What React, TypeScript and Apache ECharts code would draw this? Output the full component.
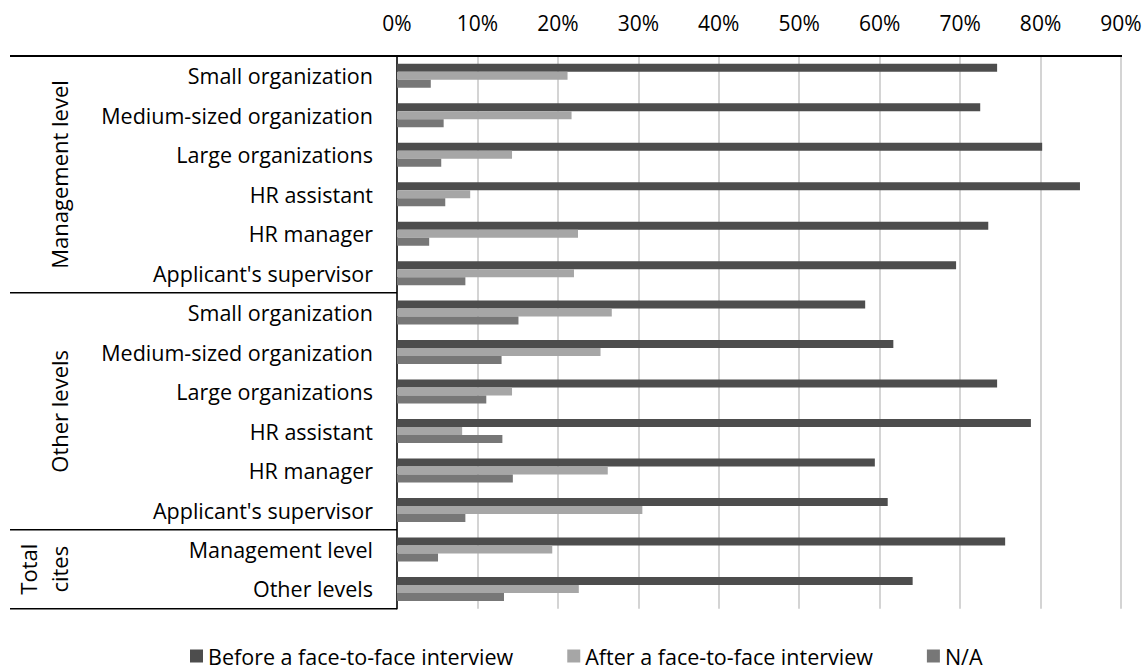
import React, { useEffect, useRef } from "react";
import * as echarts from "echarts";

const categories = [
  "Small organization",
  "Medium-sized organization",
  "Large organizations",
  "HR assistant",
  "HR manager",
  "Applicant's supervisor",
  "Small organization ",
  "Medium-sized organization ",
  "Large organizations ",
  "HR assistant ",
  "HR manager ",
  "Applicant's supervisor ",
  "Management level",
  "Other levels",
];

const seriesNames = [
  "Before a face-to-face interview",
  "After a face-to-face interview",
  "N/A",
];

const beforeValues = [74.6, 72.5, 80.2, 84.9, 73.5, 69.5, 58.2, 61.7, 74.6, 78.8, 59.4, 61.0, 75.6, 64.1];
const afterValues = [21.2, 21.7, 14.3, 9.1, 22.5, 22.0, 26.7, 25.3, 14.3, 8.1, 26.2, 30.5, 19.3, 22.6];
const naValues = [4.2, 5.8, 5.5, 6.0, 4.0, 8.5, 15.1, 13.0, 11.1, 13.1, 14.4, 8.5, 5.1, 13.3];

const groupLabels = ["Management level", "Other levels", "Total\ncites"];
const groupSizes = [6, 6, 2];

const colors = ["#4d4d4d", "#a6a6a6", "#777777"];
const FONT = "Open Sans";

export default function App() {
  const ref = useRef<HTMLDivElement>(null);
  useEffect(() => {
    if (!ref.current) return;
    const chart = echarts.init(ref.current, null, { renderer: "svg" });
    const W = 1148, H = 671;
    const gLeft = 397, gRight = 1121, gTop = 56, gBottom = 608.7;
    const band = (gBottom - gTop) / categories.length;
    const leftEdge = 10;

    const graphics: any[] = [];
    graphics.push({
      type: "line",
      shape: { x1: leftEdge, y1: gTop, x2: gRight + 1, y2: gTop },
      style: { stroke: "#000", lineWidth: 2 },
      z: 10,
    });
    let acc = 0;
    groupSizes.forEach((n, i) => {
      const y0 = gTop + acc * band;
      acc += n;
      const y1 = gTop + acc * band;
      graphics.push({
        type: "line",
        shape: { x1: leftEdge, y1, x2: gLeft, y2: y1 },
        style: { stroke: "#000", lineWidth: 1.5 },
        z: 10,
      });
      graphics.push({
        type: "text",
        x: i === 2 ? 43 : 59,
        y: (y0 + y1) / 2,
        rotation: Math.PI / 2,
        style: {
          text: groupLabels[i],
          fontFamily: FONT,
          fontSize: 22,
          fill: "#000",
          align: "center",
          verticalAlign: "middle",
          lineHeight: 31,
        },
        z: 10,
      });
    });

    chart.setOption({
      animation: false,
      backgroundColor: "#fff",
      color: colors,
      textStyle: { fontFamily: FONT },
      grid: { left: gLeft, right: W - gRight, top: gTop, bottom: H - gBottom, containLabel: false },
      xAxis: {
        type: "value",
        position: "top",
        min: 0,
        max: 90,
        interval: 10,
        axisLabel: { formatter: "{value}%", fontSize: 21, color: "#000", margin: 23, fontFamily: FONT },
        axisLine: { show: false },
        axisTick: { show: false },
        splitLine: { show: true, lineStyle: { color: "#d4d4d4", width: 2 } },
      },
      yAxis: {
        type: "category",
        inverse: true,
        data: categories,
        axisLine: { show: true, lineStyle: { color: "#000", width: 1.5 } },
        axisTick: { show: false },
        axisLabel: { fontSize: 21.5, color: "#000", margin: 24, fontFamily: FONT, formatter: (v: string) => v.trim() },
      },
      legend: {
        top: 644,
        left: 190,
        padding: 0,
        icon: "rect",
        itemWidth: 13,
        itemHeight: 13,
        itemGap: 54,
        textStyle: { fontSize: 21.5, color: "#000", fontFamily: FONT, lineHeight: 24 },
        data: seriesNames,
      },
      graphic: graphics,
      series: [
        { name: seriesNames[0], type: "bar", data: beforeValues, barWidth: 8, barGap: "0%" },
        { name: seriesNames[1], type: "bar", data: afterValues, barWidth: 8, barGap: "0%" },
        { name: seriesNames[2], type: "bar", data: naValues, barWidth: 8, barGap: "0%" },
      ],
    });
    return () => chart.dispose();
  }, []);
  return (
    <div
      ref={ref}
      style={{ position: "fixed", left: 0, top: 0, width: 1148, height: 671 }}
    />
  );
}
